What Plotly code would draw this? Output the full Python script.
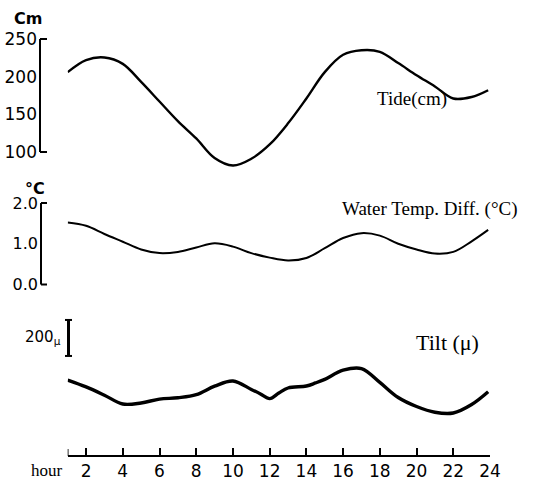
import plotly.graph_objects as go

# ---- data ----
hours = [1, 2, 3, 4, 5, 6, 7, 8, 9, 10, 11, 12, 13, 14, 15, 16, 17, 18, 19, 20, 21, 22, 23, 23.9]
tide_cm = [206, 222, 225.5, 217, 193, 167, 141, 118, 92, 82, 91, 110, 138, 171, 206, 229, 235, 233,
           218, 202, 187, 171, 173, 182]
temp_diff = [1.52, 1.44, 1.24, 1.05, 0.86, 0.77, 0.80, 0.91, 1.01, 0.93, 0.77, 0.66, 0.59, 0.65,
             0.89, 1.14, 1.26, 1.20, 1.00, 0.86, 0.76, 0.80, 1.06, 1.34]
tilt_hours = [1, 2, 3, 4, 5, 6, 7, 8, 9, 10, 11, 11.5, 12, 12.5, 13, 14, 14.5, 15, 16, 17, 18, 19,
              20, 21, 22, 23, 23.9]
tilt_mu = [194, 156, 110, 61, 67, 88, 96, 113, 160, 189, 142, 117, 91, 122, 150, 161, 178, 198,
           249, 258, 181, 97, 47, 15, 11, 58, 129]

x_tickvals = [2, 4, 6, 8, 10, 12, 14, 16, 18, 20, 22, 24]
x_ticktext = ["2", "4", "6", "8", "10", "12", "14", "16", "18", "20", "22", "24"]
x_start = 1
tide_ticks = [100, 150, 200, 250]
temp_ticks = [0.0, 1.0, 2.0]
temp_ticktext = ["0.0", "1.0", "2.0"]
tilt_scale = [328, 528]  # 200 micro scale bar

W, H = 544, 491
def fx(p):
    return p / W
def fy(p):
    return 1 - p / H

FONT_NUM = "DejaVu Sans"
FONT_LBL = "Liberation Serif"

fig = go.Figure()
fig.add_trace(go.Scatter(x=hours, y=tide_cm, mode="lines", yaxis="y",
                         line=dict(color="black", width=2.4, shape="spline", smoothing=1)))
fig.add_trace(go.Scatter(x=hours, y=temp_diff, mode="lines", yaxis="y2",
                         line=dict(color="black", width=2.0, shape="spline", smoothing=1)))
fig.add_trace(go.Scatter(x=tilt_hours, y=tilt_mu, mode="lines", yaxis="y3",
                         line=dict(color="black", width=3.4, shape="spline", smoothing=1)))

tide_k = 150 / (152 - 39)
tide_range = [100 - (175 - 152) * tide_k, 250 + (39 - 30) * tide_k]
temp_k = 2.0 / (284.5 - 203)
temp_range = [0 - (292 - 284.5) * temp_k, 2.0 + (203 - 195) * temp_k]
tilt_k = 200 / 36.0
tilt_range = [(415 - 425) * tilt_k, (415 - 310) * tilt_k]

yax_common = dict(showgrid=False, zeroline=False, showline=False, ticks="",
                  anchor="free", fixedrange=True, ticklabelstandoff=3, automargin=False)

fig.update_layout(
    width=W, height=H, margin=dict(l=0, r=0, t=0, b=0, pad=0, autoexpand=False), autosize=False,
    paper_bgcolor="white", plot_bgcolor="white", showlegend=False,
    xaxis=dict(domain=[fx(67.7), fx(490)], range=[1, 24], anchor="free", position=fy(456),
               showline=True, linecolor="black", linewidth=1.6, ticks="inside", ticklen=7,
               tickwidth=1.6, tickcolor="black", tickvals=x_tickvals, ticktext=x_ticktext,
               showgrid=False, zeroline=False, automargin=False,
               tickfont=dict(family=FONT_NUM, size=17, color="black")),
    yaxis=dict(domain=[fy(175), fy(30)], range=tide_range, position=fx(40),
               tickvals=tide_ticks, tickfont=dict(family=FONT_NUM, size=17, color="black"),
               **yax_common),
    yaxis2=dict(domain=[fy(292), fy(195)], range=temp_range, position=fx(41),
                tickvals=temp_ticks, ticktext=temp_ticktext,
                tickfont=dict(family=FONT_NUM, size=16, color="black"), **yax_common),
    yaxis3=dict(domain=[fy(425), fy(310)], range=tilt_range, position=fx(40),
                showticklabels=False, **yax_common),
)

shapes = []
def seg(x0, y0, x1, y1, yref, w=2, xref="paper", color="black"):
    shapes.append(dict(type="line", xref=xref, yref=yref, x0=x0, x1=x1, y0=y0, y1=y1,
                       line=dict(color=color, width=w)))

# tide bracket
seg(fx(40), tide_ticks[0], fx(40), tide_ticks[-1], "y")
seg(fx(40), tide_ticks[-1], fx(47), tide_ticks[-1], "y")
seg(fx(40), tide_ticks[0], fx(47), tide_ticks[0], "y")
# temperature bracket
seg(fx(41), temp_ticks[0], fx(41), temp_ticks[-1], "y2")
seg(fx(41), temp_ticks[-1], fx(47), temp_ticks[-1], "y2")
seg(fx(41), temp_ticks[0], fx(47), temp_ticks[0], "y2")
# tilt scale bar
seg(fx(68.5), tilt_scale[0], fx(68.5), tilt_scale[1], "y3", w=3)
seg(fx(65), tilt_scale[0], fx(72), tilt_scale[0], "y3", w=2)
seg(fx(65), tilt_scale[1], fx(72), tilt_scale[1], "y3", w=2)
# end tick of the hour axis at its start
seg(x_start, fy(456), x_start, fy(449), "paper", w=1.6, xref="x")
fig.update_layout(shapes=shapes)

def ann(text, x, y, size, family=FONT_LBL, xanchor="center", yref="paper", bold=False):
    fig.add_annotation(text=f"<b>{text}</b>" if bold else text, x=x, y=y, xref="paper",
                       yref=yref, xanchor=xanchor, yanchor="middle", showarrow=False,
                       font=dict(family=family, size=size, color="black"))

ann("Cm", fx(28), fy(18), 16, family=FONT_NUM, bold=True)
ann("°C", fx(35), fy(188), 16, family=FONT_NUM, bold=True)
ann("Tide(cm)", fx(412), fy(99), 19)
ann("Water Temp. Diff. (°C)", fx(430), fy(209), 19)
ann("Tilt (μ)", fx(447), fy(342), 22)
ann("200<sub>μ</sub>", fx(63), (tilt_scale[0] + tilt_scale[1]) / 2, 15, family=FONT_NUM,
    xanchor="right", yref="y3")
ann("hour", fx(47), fy(470), 17, family=FONT_LBL)

post = ("document.documentElement.style.overflow='hidden';"
        "document.body.style.margin='0px';document.body.style.overflow='hidden';")
fig.write_html("out.html", config={"displayModeBar": False}, post_script=post)
